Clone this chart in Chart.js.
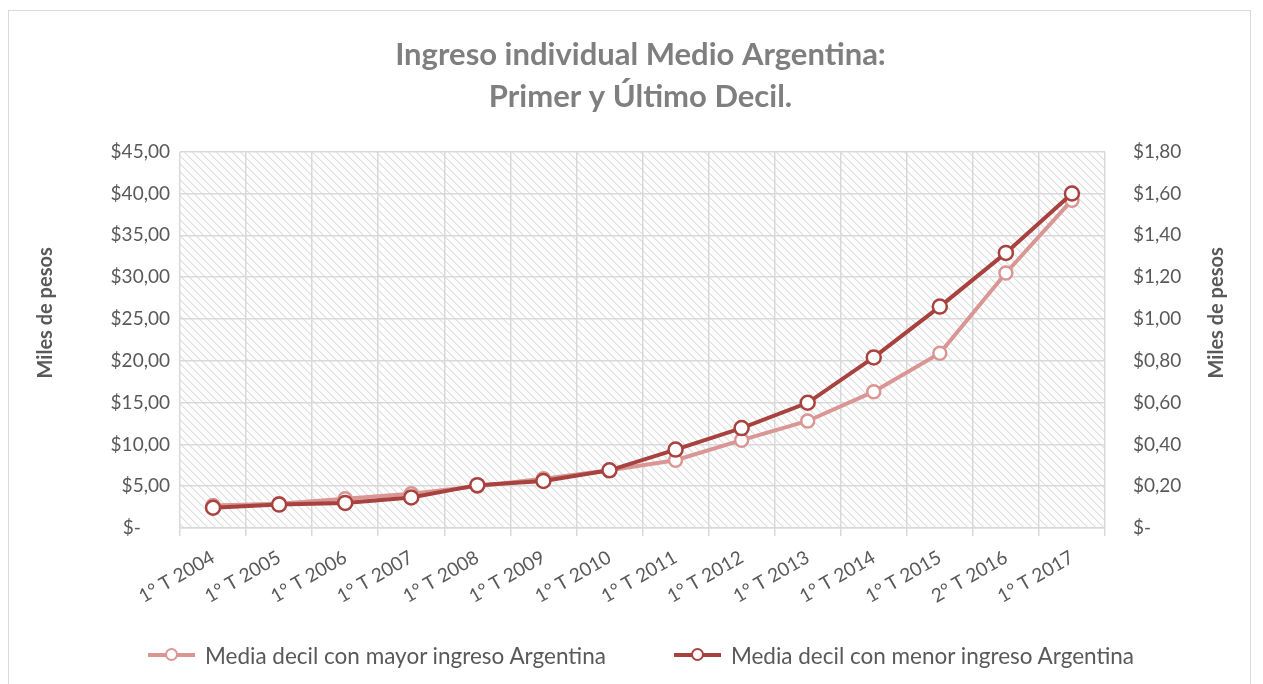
<!DOCTYPE html>
<html>
<head>
<meta charset="utf-8">
<script src="https://cdn.jsdelivr.net/npm/chart.js@4.4.1/dist/chart.umd.min.js"></script>
<style>
  html, body { margin: 0; padding: 0; background: #fff; }
  #wrap { position: relative; width: 1263px; height: 684px; overflow: hidden; }
  #frame { position: absolute; left: 8px; top: 10px; width: 1243px; height: 690px; border: 1px solid #D9D9D9; box-sizing: border-box; pointer-events: none; }
  canvas { position: absolute; left: 0; top: 0; }
  #legend { position: absolute; left: 148px; top: 638px; height: 34px; display: flex; align-items: center;
            font-family: Lato, "Open Sans", sans-serif; font-size: 22.5px; color: #595959; white-space: nowrap; }
  .item { display: flex; align-items: center; margin-right: 68px; }
  .icon { position: relative; width: 47px; height: 18px; margin-right: 10px; }
  .icon .ln { position: absolute; left: 0; top: 7px; width: 47px; height: 4px; }
  .icon .dot { position: absolute; left: 17px; top: 2px; width: 9px; height: 9px; border-radius: 50%; background: #fff; border: 2.5px solid; }
</style>
</head>
<body>
<div id="wrap">
  <canvas id="chart" width="1263" height="684"></canvas>
  <div id="legend"></div>
  <div id="frame"></div>
</div>
<script>
// categorias del eje x
var labels = ['1° T 2004', '1° T 2005', '1° T 2006', '1° T 2007', '1° T 2008', '1° T 2009', '1° T 2010',
              '1° T 2011', '1° T 2012', '1° T 2013', '1° T 2014', '1° T 2015', '2° T 2016', '1° T 2017'];
// decil con mayor ingreso (eje izquierdo, miles de pesos)
var mayorIngreso = [2.7, 2.9, 3.5, 4.1, 5.0, 5.9, 6.9, 8.1, 10.5, 12.8, 16.3, 20.9, 30.5, 39.2];
// decil con menor ingreso (eje derecho, miles de pesos)
var menorIngreso = [0.097, 0.112, 0.12, 0.146, 0.205, 0.225, 0.276, 0.375, 0.478, 0.599, 0.816, 1.059, 1.316, 1.60];

var colorMayor = '#D99694';
var colorMenor = '#A8423F';
var font = 'Lato, "Open Sans", sans-serif';

function pesos(v) {
    if (Math.abs(v) < 1e-9) return '$-      ';
    return '$' + v.toFixed(2).replace('.', ',');
}

// trama diagonal del area de grafico
function makeHatch() {
    var c = document.createElement('canvas');
    c.width = 8; c.height = 8;
    var g = c.getContext('2d');
    g.fillStyle = '#ffffff';
    g.fillRect(0, 0, 8, 8);
    for (var y = 0; y < 8; y++) {
        for (var x = 0; x < 8; x++) {
            var d = ((x - y) % 8 + 8) % 8;
            if (d === 0) { g.fillStyle = '#DFDFDF'; g.fillRect(x, y, 1, 1); }
            if (d === 1) { g.fillStyle = '#EFEFEF'; g.fillRect(x, y, 1, 1); }
        }
    }
    return c;
}

function axisTitle(ctx, x, y) {
    ctx.save();
    ctx.translate(x, y);
    ctx.rotate(-Math.PI / 2);
    ctx.font = 'bold 20px ' + font;
    ctx.fillStyle = '#595959';
    ctx.textAlign = 'center';
    ctx.textBaseline = 'middle';
    ctx.fillText('Miles de pesos', 0, 0);
    ctx.restore();
}

var hatchPlugin = {
    id: 'hatch',
    beforeDraw: function(chart) {
        var a = chart.chartArea, ctx = chart.ctx;
        ctx.save();
        ctx.fillStyle = ctx.createPattern(makeHatch(), 'repeat');
        ctx.fillRect(a.left, a.top, a.right - a.left, a.bottom - a.top);
        ctx.restore();
    },
    afterDraw: function(chart) {
        // titulos de ambos ejes, leidos de abajo hacia arriba
        var a = chart.chartArea;
        var mid = (a.top + a.bottom) / 2 - 27;
        axisTitle(chart.ctx, 46, mid);
        axisTitle(chart.ctx, 1217, mid);
    }
};

var ctx = document.getElementById('chart');
var chart = new Chart(ctx, {
    type: 'line',
    data: {
        labels: labels,
        datasets: [{
            label: 'Media decil con menor ingreso Argentina',
            data: menorIngreso,
            yAxisID: 'y2',
            borderColor: colorMenor,
            backgroundColor: '#ffffff',
            borderWidth: 4,
            pointRadius: 7,
            pointBorderWidth: 2.5,
            pointBackgroundColor: '#ffffff',
            pointBorderColor: colorMenor,
            tension: 0
        }, {
            label: 'Media decil con mayor ingreso Argentina',
            data: mayorIngreso,
            yAxisID: 'y',
            borderColor: colorMayor,
            backgroundColor: '#ffffff',
            borderWidth: 4,
            pointRadius: 6.5,
            pointBorderWidth: 2.5,
            pointBackgroundColor: '#ffffff',
            pointBorderColor: colorMayor,
            tension: 0
        }]
    },
    options: {
        responsive: false,
        animation: false,
        layout: { padding: { left: 30, right: 12, top: 20, bottom: 60 } },
        plugins: {
            tooltip: { enabled: false },
            legend: { display: false },
            title: {
                display: true,
                text: ['Ingreso individual Medio Argentina:', 'Primer y Último Decil.'],
                color: '#7F7F7F',
                font: { family: font, size: 31, weight: 'bold', lineHeight: 1.35 },
                padding: { top: 14, bottom: 34 }
            }
        },
        scales: {
            x: {
                offset: true,
                grid: { color: '#D9D9D9', lineWidth: 1.5, offset: true, drawTicks: true, tickLength: 8 },
                border: { color: '#D9D9D9', width: 1.5 },
                ticks: { color: '#595959', font: { family: font, size: 19 }, minRotation: 30, maxRotation: 30, autoSkip: false, padding: 10 },
                afterFit: function(s) { s.height = 96; }
            },
            y: {
                position: 'left',
                min: 0, max: 45,
                ticks: { stepSize: 5, color: '#595959', font: { family: font, size: 19 }, padding: 10, callback: function(v) { return pesos(v); } },
                grid: { color: '#D9D9D9', lineWidth: 1.5, drawTicks: false },
                border: { display: false },
                afterFit: function(s) { s.width = 150; }
            },
            y2: {
                position: 'right',
                min: 0, max: 1.8,
                ticks: { stepSize: 0.2, color: '#595959', font: { family: font, size: 19 }, padding: 28, callback: function(v) { return pesos(v); } },
                grid: { drawOnChartArea: false, drawTicks: false },
                border: { display: false },
                afterFit: function(s) { s.width = 146; }
            }
        }
    },
    plugins: [hatchPlugin]
});

// leyenda en HTML, serie clara primero
var legendEl = document.getElementById('legend');
[1, 0].forEach(function(i) {
    var ds = chart.data.datasets[i];
    var item = document.createElement('div');
    item.className = 'item';
    var icon = document.createElement('span');
    icon.className = 'icon';
    var ln = document.createElement('span');
    ln.className = 'ln';
    ln.style.background = ds.borderColor;
    var dot = document.createElement('span');
    dot.className = 'dot';
    dot.style.borderColor = ds.borderColor;
    icon.appendChild(ln);
    icon.appendChild(dot);
    var txt = document.createElement('span');
    txt.textContent = ds.label;
    item.appendChild(icon);
    item.appendChild(txt);
    legendEl.appendChild(item);
});
</script>
</body>
</html>
